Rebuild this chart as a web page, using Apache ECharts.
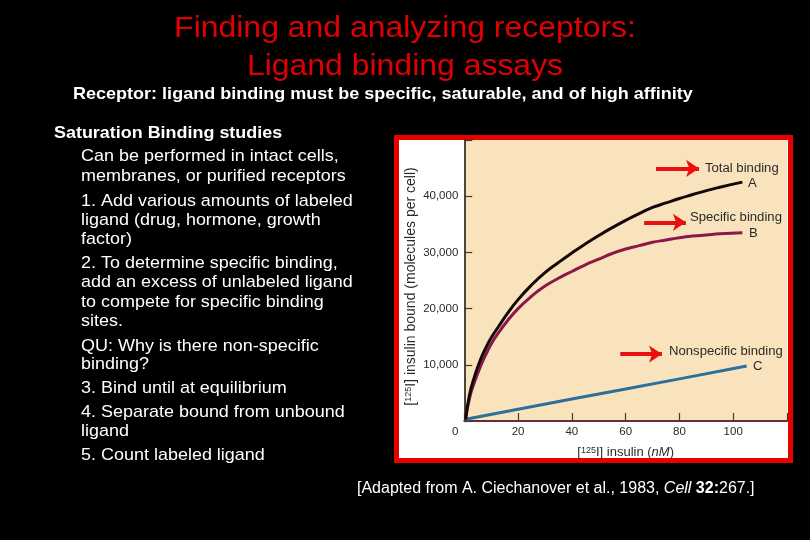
<!DOCTYPE html>
<html>
<head>
<meta charset="utf-8">
<script src="https://cdn.jsdelivr.net/npm/echarts@6/dist/echarts.min.js"></script>
<style>
html,body{margin:0;padding:0;background:#000;}
#c{width:810px;height:540px;}
</style>
</head>
<body>
<div id="c"></div>
<script>
// ---- data ----
var concentration = [0.5, 2, 4, 6, 8, 10, 13, 16, 20, 25, 30, 35, 40, 45, 50, 55, 60, 65, 70, 75, 80, 85, 90, 95, 103.4];
var totalBinding = [300, 4800, 8200, 10900, 13000, 14800, 17000, 19100, 21600, 24200, 26400, 28200, 29900, 31500, 33000, 34400, 35700, 36900, 38000, 38800, 39600, 40300, 41000, 41600, 42500];
var specificBinding = [300, 4200, 7200, 9700, 11800, 13700, 15900, 17800, 20000, 22200, 24000, 25400, 26600, 27800, 28800, 29800, 30600, 31200, 31800, 32200, 32600, 32900, 33100, 33300, 33500];
var nonspecConc = [0.5, 20, 40, 60, 80, 105];
var nonspecificBinding = [300, 2100, 3900, 5700, 7500, 9800];
var xTicks = [0, 20, 40, 60, 80, 100];
var yTicks = [10000, 20000, 30000, 40000];

var titleLines = ['Finding and analyzing receptors:', 'Ligand binding assays'];
var subtitle = 'Receptor: ligand binding must be specific, saturable, and of high affinity';
var heading = 'Saturation Binding studies';
var bodyLines = [
  'Can be performed in intact cells,',
  'membranes, or purified receptors',
  '1. Add various amounts of labeled',
  'ligand (drug, hormone, growth',
  'factor)',
  '2. To determine specific binding,',
  'add an excess of unlabeled ligand',
  'to compete for specific binding',
  'sites.',
  'QU: Why is there non-specific',
  'binding?',
  '3. Bind until at equilibrium',
  '4. Separate bound from unbound',
  'ligand',
  '5. Count labeled ligand'
];
var bodyY = [156.7, 176, 201, 220.5, 239.5, 263.6, 282.7, 302.7, 321, 346, 364.4, 388.4, 412.7, 431, 455];

function pairs(xs, ys){ return xs.map(function(x,i){ return [x, ys[i]]; }); }
function fmt(v){ return String(v).replace(/\B(?=(\d{3})+(?!\d))/g, ','); }

var FONT = 'Liberation Sans, Arial, Helvetica, sans-serif';
var graphics = [];
// frame of embedded figure
graphics.push({type:'rect', z:-10, shape:{x:396.5, y:137.5, width:394, height:323}, style:{fill:'#ffffff', stroke:'#e60000', lineWidth:5}});
// title
titleLines.forEach(function(t,i){
  graphics.push({type:'text', x:405, y:[29,66.5][i], scaleX:1.065, style:{text:t, fill:'#e00000', font:'30px '+FONT, textAlign:'center', textVerticalAlign:'middle'}});
});
graphics.push({type:'text', x:73, y:94.5, scaleX:1.06, style:{text:subtitle, fill:'#ffffff', font:'bold 17px '+FONT, textAlign:'left', textVerticalAlign:'middle'}});
graphics.push({type:'text', x:54, y:133, scaleX:1.055, style:{text:heading, fill:'#ffffff', font:'bold 17px '+FONT, textAlign:'left', textVerticalAlign:'middle'}});
bodyLines.forEach(function(t,i){
  graphics.push({type:'text', x:81, y:bodyY[i], scaleX:1.057, style:{text:t, fill:'#ffffff', font:'17px '+FONT, textAlign:'left', textVerticalAlign:'middle'}});
});
// caption
graphics.push({type:'text', x:357, y:488.5, style:{
  text:'{n|[Adapted from A. Ciechanover et al., 1983, }{i|Cell}{n| }{b|32:}{n|267.]}',
  textVerticalAlign:'middle', textAlign:'left',
  rich:{n:{fill:'#ffffff', font:'16px '+FONT}, i:{fill:'#ffffff', font:'italic 16px '+FONT}, b:{fill:'#ffffff', font:'bold 16px '+FONT}}
}});
// curve labels
var lab = [['Total binding',705,168.3],['A',748,183.5],['Specific binding',690,217.7],['B',749,234],['Nonspecific binding',669,351.7],['C',753,367]];
lab.forEach(function(l){
  graphics.push({type:'text', x:l[1], y:l[2], scaleX:1.05, style:{text:l[0], fill:'#2a2a2a', font:'12.5px '+FONT, textAlign:'left', textVerticalAlign:'middle'}});
});

var arrowStyle = {color:'#e81010', width:4, type:'solid'};
var nameRich = {
  t:{fontSize:13, color:'#2a2a2a', fontFamily:FONT},
  it:{fontSize:13, color:'#2a2a2a', fontStyle:'italic', fontFamily:FONT},
  s:{fontSize:9, color:'#2a2a2a', verticalAlign:'top', fontFamily:FONT}
};
var option = {
  backgroundColor:'#000000',
  animation:false,
  grid:{left:464.3, top:140, right:23, bottom:119, show:true, backgroundColor:'#f8e3bd', borderWidth:0},
  xAxis:{
    type:'value', min:0, max:120, interval:20,
    name:'{t|[}{s|125}{t|I] insulin (}{it|nM}{t|)}', nameLocation:'middle', nameGap:25,
    nameTextStyle:{rich:nameRich},
    axisLine:{show:true, onZero:false, lineStyle:{color:'#6b2a3c', width:2}},
    axisTick:{show:true, inside:true, length:8, lineStyle:{color:'#4a3a30', width:1.2}},
    splitLine:{show:false},
    axisLabel:{margin:5, fontSize:11.5, color:'#2a2a2a', fontFamily:FONT,
      formatter:function(v){ if (xTicks.indexOf(v) < 0) return ''; return v===0 ? '{z|0}' : String(v); },
      rich:{z:{fontSize:11.5, color:'#2a2a2a', fontFamily:FONT, padding:[0,18,0,0]}}}
  },
  yAxis:{
    type:'value', min:0, max:50000, interval:10000,
    name:'{t|[}{s|125}{t|I] insulin bound (molecules per cell)}', nameLocation:'middle', nameGap:46, nameRotate:90,
    nameTextStyle:{padding:[0,12,0,0], rich:{t:{fontSize:14, color:'#2a2a2a', fontFamily:FONT}, s:{fontSize:9, color:'#2a2a2a', verticalAlign:'top', fontFamily:FONT}}},
    axisLine:{show:true, lineStyle:{color:'#111111', width:1.5}},
    axisTick:{show:true, inside:true, length:8, lineStyle:{color:'#4a3a30', width:1.2}},
    splitLine:{show:false},
    axisLabel:{margin:6, fontSize:11.5, color:'#2a2a2a', fontFamily:FONT,
      formatter:function(v){ return yTicks.indexOf(v) < 0 ? '' : fmt(v); }}
  },
  series:[
    {name:'Nonspecific binding', type:'line', data:pairs(nonspecConc, nonspecificBinding), showSymbol:false,
     lineStyle:{color:'#2c6e9c', width:3}, z:3,
     markLine:{silent:true, symbol:['none','arrow'], symbolSize:[13,13], label:{show:false}, lineStyle:arrowStyle,
       data:[[{coord:[58,11900]},{coord:[73.5,11900]}]]}},
    {name:'Specific binding', type:'line', data:pairs(concentration, specificBinding), showSymbol:false, smooth:0.5,
     lineStyle:{color:'#8c1848', width:3}, z:4,
     markLine:{silent:true, symbol:['none','arrow'], symbolSize:[13,13], label:{show:false}, lineStyle:arrowStyle,
       data:[[{coord:[66.9,35350]},{coord:[82.4,35350]}]]}},
    {name:'Total binding', type:'line', data:pairs(concentration, totalBinding), showSymbol:false, smooth:0.5,
     lineStyle:{color:'#150808', width:3}, z:5,
     markLine:{silent:true, symbol:['none','arrow'], symbolSize:[13,13], label:{show:false}, lineStyle:arrowStyle,
       data:[[{coord:[71.3,44940]},{coord:[87.3,44940]}]]}}
  ],
  graphic:{elements:graphics}
};
var chart = echarts.init(document.getElementById('c'), null, {renderer:'canvas'});
chart.setOption(option);
</script>
</body>
</html>
